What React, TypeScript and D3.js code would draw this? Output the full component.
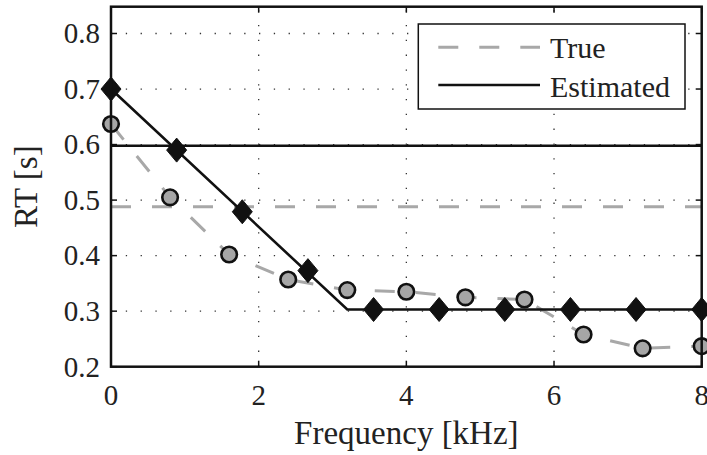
import React from "react";
import * as d3 from "d3";

const xTicks = [0, 2, 4, 6, 8];
const yTicks = [0.2, 0.3, 0.4, 0.5, 0.6, 0.7, 0.8];

const trueFreq = [0, 0.8, 1.6, 2.4, 3.2, 4.0, 4.8, 5.6, 6.4, 7.2, 8.0];
const trueRT = [0.637, 0.505, 0.402, 0.357, 0.338, 0.335, 0.325, 0.321, 0.258, 0.233, 0.237];

const estFreq = [0, 0.889, 1.778, 2.667, 3.556, 4.444, 5.333, 6.222, 7.111, 8.0];
const estRT = [0.70, 0.590, 0.479, 0.373, 0.303, 0.303, 0.303, 0.303, 0.303, 0.303];

const estLineFreq = [0, 3.2, 8];
const estLineRT = [0.70, 0.303, 0.303];

const trueMeanRT = 0.488;
const estMeanRT = 0.598;

const legendLabels = ["True", "Estimated"];

const W = 707, H = 455;
const L = 111, R = 701.7, T = 6.7, B = 366.7;
const FONT = '"Liberation Serif", "DejaVu Serif", "Noto Serif", "Times New Roman", serif';
const GRAY = "#a8a8a8";

export default function App() {
  const x = d3.scaleLinear().domain([0, 8]).range([L, R]);
  const y = d3.scaleLinear().domain([0.2, 0.8]).range([B, 33.5]);
  const yTop = y.invert(T);

  const line = d3.line<[number, number]>().x((d) => x(d[0])).y((d) => y(d[1]));
  const truePts: [number, number][] = trueFreq.map((f, i) => [f, trueRT[i]]);
  const estLinePts: [number, number][] = estLineFreq.map((f, i) => [f, estLineRT[i]]);

  const tick = 6;
  const ts = { fontFamily: FONT };

  return (
    <svg
      width={W}
      height={H}
      style={{ position: "fixed", left: 0, top: 0, background: "#fff", fontFamily: FONT }}
    >
      <rect x={0} y={0} width={W} height={H} fill="#fff" />
      {/* grid */}
      {xTicks.filter((t) => t > 0 && t < 8).map((t) => (
        <line key={"gx" + t} x1={x(t)} x2={x(t)} y1={y(0.2)} y2={y(yTop)}
          stroke="#333" strokeWidth={1.3} strokeDasharray="1.3 13.5" />
      ))}
      {yTicks.filter((t) => t > 0.2).map((t) => (
        <line key={"gy" + t} x1={x(0)} x2={x(8)} y1={y(t)} y2={y(t)}
          stroke="#333" strokeWidth={1.3} strokeDasharray="1.3 13.5" />
      ))}
      {/* mean lines */}
      <line x1={x(0)} x2={x(8)} y1={y(trueMeanRT)} y2={y(trueMeanRT)}
        stroke={GRAY} strokeWidth={3} strokeDasharray="20 21" />
      <line x1={x(0)} x2={x(8)} y1={y(estMeanRT)} y2={y(estMeanRT)}
        stroke="#111" strokeWidth={2.6} />
      {/* true curve */}
      <path d={line(truePts) || ""} fill="none" stroke={GRAY} strokeWidth={3}
        strokeDasharray="20 21" />
      {/* estimated curve */}
      <path d={line(estLinePts) || ""} fill="none" stroke="#111" strokeWidth={2.6} />
      {/* circles */}
      {trueFreq.map((f, i) => (
        <circle key={"c" + i} cx={x(f)} cy={y(trueRT[i])} r={7.8}
          fill="#a6a6a6" stroke="#111" strokeWidth={2.6} />
      ))}
      {/* diamonds */}
      {estFreq.map((f, i) => {
        const cx = x(f), cy = y(estRT[i]);
        return (
          <path key={"d" + i}
            d={`M${cx},${cy - 12}L${cx + 10},${cy}L${cx},${cy + 12}L${cx - 10},${cy}Z`}
            fill="#111" stroke="#111" strokeWidth={1} />
        );
      })}
      {/* axes box */}
      <rect x={L} y={T} width={R - L} height={B - T} fill="none" stroke="#111" strokeWidth={2.5} />
      {/* ticks */}
      {xTicks.map((t) => (
        <g key={"tx" + t}>
          <line x1={x(t)} x2={x(t)} y1={B} y2={B - tick} stroke="#111" strokeWidth={1.5} />
          <line x1={x(t)} x2={x(t)} y1={T} y2={T + tick} stroke="#111" strokeWidth={1.5} />
          <text style={ts} x={x(t)} y={405} textAnchor="middle" fontSize={29} fill="#222">{t}</text>
        </g>
      ))}
      {yTicks.map((t) => (
        <g key={"ty" + t}>
          <line x1={L} x2={L + tick} y1={y(t)} y2={y(t)} stroke="#111" strokeWidth={1.5} />
          <line x1={R} x2={R - tick} y1={y(t)} y2={y(t)} stroke="#111" strokeWidth={1.5} />
          <text style={ts} x={100} y={y(t)} dy="0.34em" textAnchor="end" fontSize={29} fill="#222">{t.toFixed(1)}</text>
        </g>
      ))}
      {/* axis labels */}
      <text style={ts} x={(L + R) / 2} y={444} textAnchor="middle" fontSize={33} fill="#222">Frequency [kHz]</text>
      <text style={ts} transform={`translate(37,${(T + B) / 2}) rotate(-90)`} textAnchor="middle" fontSize={33} fill="#222">RT [s]</text>
      {/* legend */}
      <rect x={418.3} y={24} width={266.7} height={85} fill="#fff" stroke="#111" strokeWidth={1.5} />
      <line x1={438.3} x2={540} y1={47.3} y2={47.3} stroke={GRAY} strokeWidth={3} strokeDasharray="20 21" />
      <line x1={438.3} x2={540} y1={85} y2={85} stroke="#111" strokeWidth={2.6} />
      <text style={ts} x={550} y={58.3} fontSize={30} fill="#222">{legendLabels[0]}</text>
      <text style={ts} x={550} y={96.7} fontSize={30} fill="#222">{legendLabels[1]}</text>
    </svg>
  );
}
